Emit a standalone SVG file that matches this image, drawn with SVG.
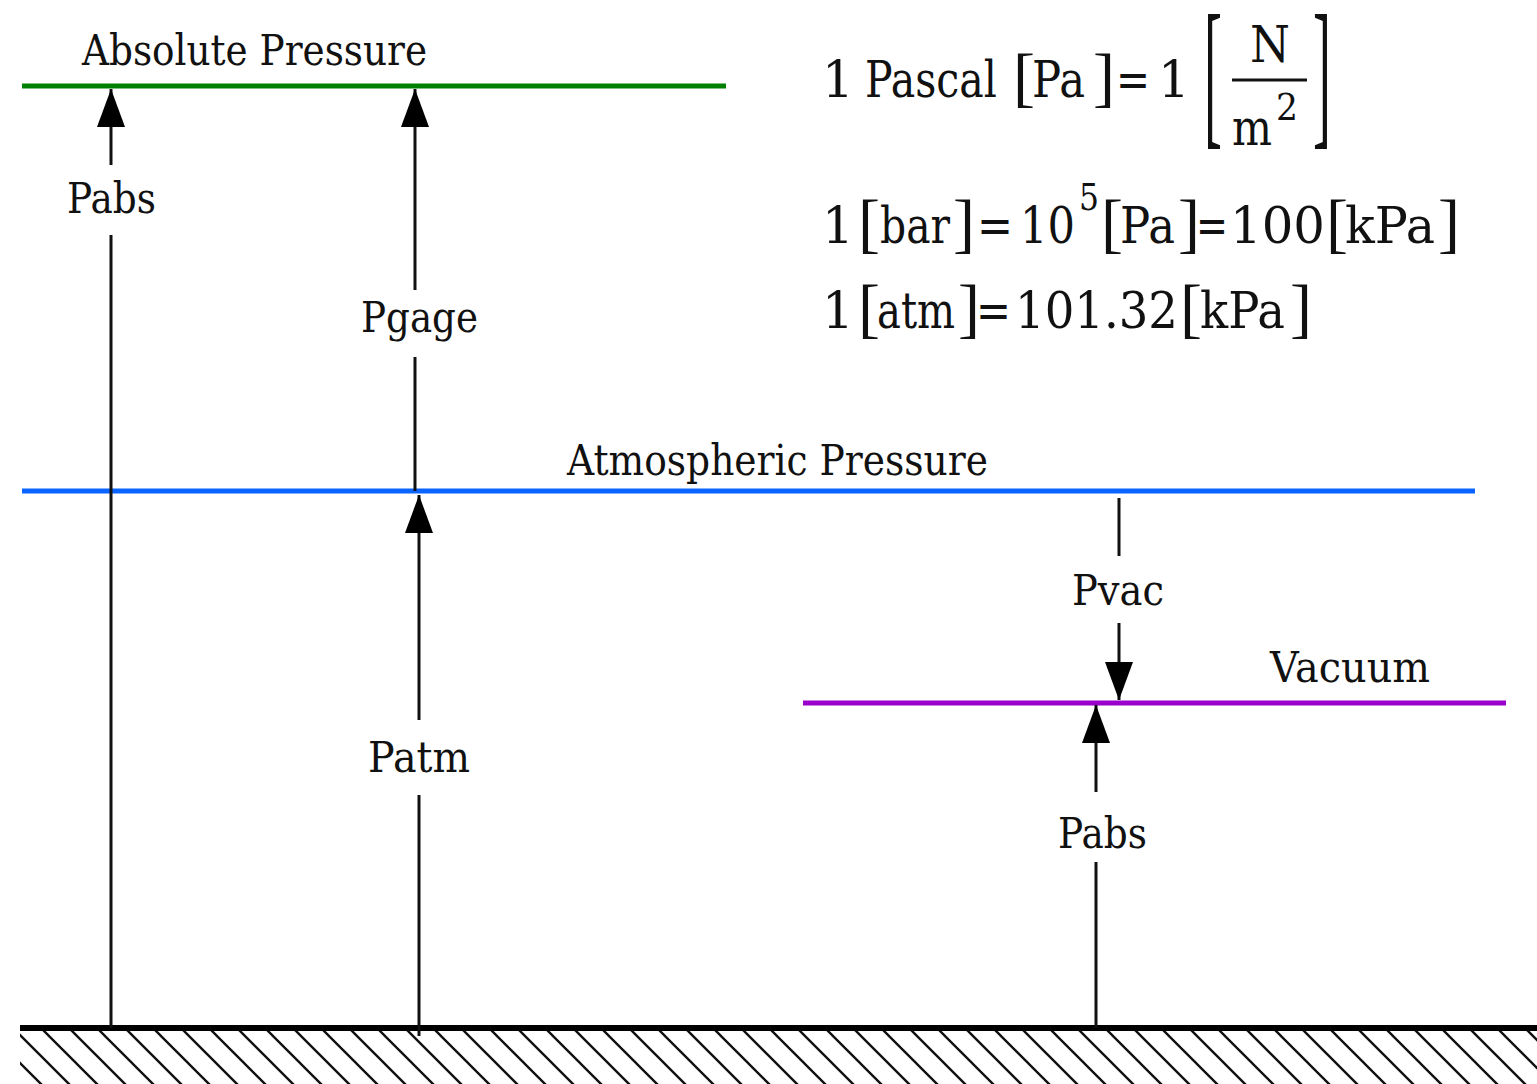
<svg xmlns="http://www.w3.org/2000/svg" width="1537" height="1084" viewBox="0 0 1537 1084">
<style>
.t{font-family:"DejaVu Serif","Liberation Serif",serif;font-size:43px;fill:#111}
.f{font-family:"DejaVu Serif","Liberation Serif",serif;font-size:50px;fill:#111}
.b{font-family:"Liberation Serif","DejaVu Serif",serif;font-size:66px;fill:#111}
.bb{font-family:"Liberation Serif","DejaVu Serif",serif;font-size:164px;fill:#111}
.sup{font-family:"DejaVu Serif","Liberation Serif",serif;font-size:38px;fill:#111}
.ln{stroke:#111;stroke-width:3;fill:none}
.lvl{stroke-width:5;fill:none}
</style>
<defs>
<marker id="ah" markerUnits="userSpaceOnUse" markerWidth="40" markerHeight="30" viewBox="-40 -15 40 30" refX="0" refY="0" orient="auto">
<path d="M0,0 L-38,-14 L-38,14 Z" fill="#000"/>
</marker>
<pattern id="hatch" patternUnits="userSpaceOnUse" x="21" y="0" width="28" height="28">
<path d="M-2,-2 L30,30 M-30,-2 L2,30 M26,-2 L58,30" stroke="#111" stroke-width="2.4"/>
</pattern>
</defs>

<g id="ground">
<rect x="20" y="1031" width="1517" height="53" fill="url(#hatch)"/>
<line x1="20" y1="1028" x2="1537" y2="1028" stroke="#000" stroke-width="6"/>
</g>

<g id="absolute-pressure">
<line class="lvl" x1="22" y1="86" x2="726" y2="86" stroke="#008000"/>
<text class="t" x="82" y="65" textLength="345" lengthAdjust="spacingAndGlyphs">Absolute Pressure</text>
</g>
<g id="atmospheric-pressure">
<line class="lvl" x1="22" y1="491" x2="1475" y2="491" stroke="#0a64ff"/>
<text class="t" x="567" y="475" textLength="421" lengthAdjust="spacingAndGlyphs">Atmospheric Pressure</text>
</g>
<g id="vacuum">
<line class="lvl" x1="803" y1="703" x2="1506" y2="703" stroke="#9900cc"/>
<text class="t" x="1270" y="682" textLength="160" lengthAdjust="spacingAndGlyphs">Vacuum</text>
</g>

<g id="connectors">
<line class="ln" x1="111" y1="1028" x2="111" y2="235"/>
<line class="ln" x1="111" y1="165" x2="111" y2="89" marker-end="url(#ah)"/>
<line class="ln" x1="415" y1="491" x2="415" y2="357"/>
<line class="ln" x1="415" y1="290" x2="415" y2="89" marker-end="url(#ah)"/>
<line class="ln" x1="419" y1="1036" x2="419" y2="795"/>
<line class="ln" x1="419" y1="720" x2="419" y2="495" marker-end="url(#ah)"/>
<line class="ln" x1="1119" y1="498" x2="1119" y2="556"/>
<line class="ln" x1="1119" y1="623" x2="1119" y2="700" marker-end="url(#ah)"/>
<line class="ln" x1="1096" y1="1028" x2="1096" y2="862"/>
<line class="ln" x1="1096" y1="792" x2="1096" y2="705" marker-end="url(#ah)"/>
</g>

<g id="label-pabs-left"><text class="t" x="67" y="213" textLength="89" lengthAdjust="spacingAndGlyphs">Pabs</text></g>
<g id="label-pgage"><text class="t" x="361" y="332" textLength="117" lengthAdjust="spacingAndGlyphs">Pgage</text></g>
<g id="label-patm"><text class="t" x="368" y="772" textLength="102" lengthAdjust="spacingAndGlyphs">Patm</text></g>
<g id="label-pvac"><text class="t" x="1072" y="605" textLength="92" lengthAdjust="spacingAndGlyphs">Pvac</text></g>
<g id="label-pabs-right"><text class="t" x="1058" y="848" textLength="89" lengthAdjust="spacingAndGlyphs">Pabs</text></g>

<g id="formula-pascal">
<text class="f" x="822" y="97">1</text>
<text class="f" x="865" y="97" textLength="132" lengthAdjust="spacingAndGlyphs">Pascal</text>
<text class="b" x="1013" y="99">[</text>
<text class="f" x="1032" y="97" textLength="53" lengthAdjust="spacingAndGlyphs">Pa</text>
<text class="b" x="1093" y="99">]</text>
<text class="f" x="1116" y="97" textLength="34" lengthAdjust="spacingAndGlyphs">=</text>
<text class="f" x="1158" y="97">1</text>
<text class="bb" x="1204" y="127" textLength="18" lengthAdjust="spacingAndGlyphs">[</text>
<text class="f" x="1250" y="62" textLength="40" lengthAdjust="spacingAndGlyphs">N</text>
<line x1="1232" y1="80" x2="1307" y2="80" stroke="#111" stroke-width="3"/>
<text class="f" x="1232" y="145" textLength="40" lengthAdjust="spacingAndGlyphs">m</text>
<text class="sup" x="1276" y="120" textLength="22" lengthAdjust="spacingAndGlyphs">2</text>
<text class="bb" x="1313" y="127" textLength="18" lengthAdjust="spacingAndGlyphs">]</text>
</g>

<g id="formula-bar">
<text class="f" x="822" y="243">1</text>
<text class="b" x="858" y="245">[</text>
<text class="f" x="880" y="243" textLength="70" lengthAdjust="spacingAndGlyphs">bar</text>
<text class="b" x="953" y="245">]</text>
<text class="f" x="977" y="243" textLength="36" lengthAdjust="spacingAndGlyphs">=</text>
<text class="f" x="1020" y="243" textLength="55" lengthAdjust="spacingAndGlyphs">10</text>
<text class="sup" x="1079" y="210" textLength="20" lengthAdjust="spacingAndGlyphs">5</text>
<text class="b" x="1101" y="245">[</text>
<text class="f" x="1120" y="243" textLength="55" lengthAdjust="spacingAndGlyphs">Pa</text>
<text class="b" x="1178" y="245">]</text>
<text class="f" x="1196" y="243" textLength="32" lengthAdjust="spacingAndGlyphs">=</text>
<text class="f" x="1230" y="243" textLength="95" lengthAdjust="spacingAndGlyphs">100</text>
<text class="b" x="1326" y="245">[</text>
<text class="f" x="1345" y="243" textLength="90" lengthAdjust="spacingAndGlyphs">kPa</text>
<text class="b" x="1438" y="245">]</text>
</g>

<g id="formula-atm">
<text class="f" x="822" y="328">1</text>
<text class="b" x="858" y="330">[</text>
<text class="f" x="877" y="328" textLength="78" lengthAdjust="spacingAndGlyphs">atm</text>
<text class="b" x="958" y="330">]</text>
<text class="f" x="976" y="328" textLength="35" lengthAdjust="spacingAndGlyphs">=</text>
<text class="f" x="1015" y="328" textLength="163" lengthAdjust="spacingAndGlyphs">101.32</text>
<text class="b" x="1180" y="330">[</text>
<text class="f" x="1200" y="328" textLength="85" lengthAdjust="spacingAndGlyphs">kPa</text>
<text class="b" x="1290" y="330">]</text>
</g>
</svg>
